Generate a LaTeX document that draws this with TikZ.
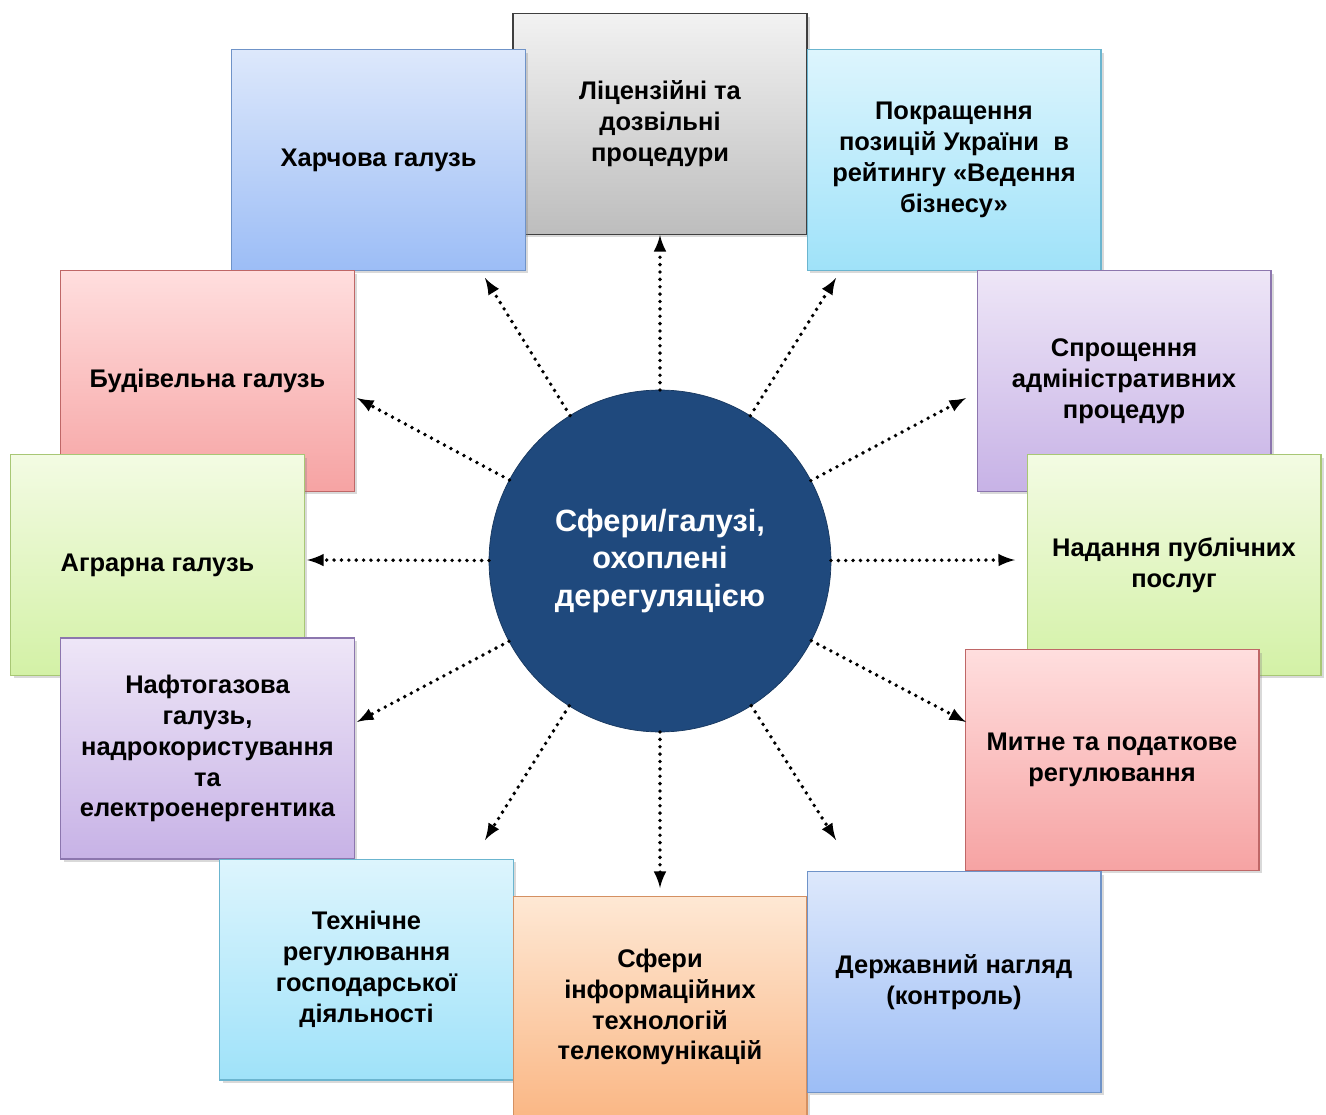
\documentclass[tikz,border=0pt]{standalone}
\usepackage{fontspec}
\setmainfont{Liberation Sans}
\usetikzlibrary{shadows}
\definecolor{grT}{HTML}{F2F2F2}\definecolor{grB}{HTML}{BDBDBD}\definecolor{grD}{HTML}{3F3F3F}
\definecolor{blT}{HTML}{DDE8FB}\definecolor{blB}{HTML}{9CBDF6}\definecolor{blD}{HTML}{6F93C8}
\definecolor{cyT}{HTML}{DDF5FD}\definecolor{cyB}{HTML}{9FE2F9}\definecolor{cyD}{HTML}{6BB5CF}
\definecolor{rdT}{HTML}{FFDEDE}\definecolor{rdB}{HTML}{F6A3A3}\definecolor{rdD}{HTML}{BF6767}
\definecolor{puT}{HTML}{EEE6F7}\definecolor{puB}{HTML}{C7B2E6}\definecolor{puD}{HTML}{8C76AE}
\definecolor{gnT}{HTML}{F3FBE3}\definecolor{gnB}{HTML}{D3F1A6}\definecolor{gnD}{HTML}{A8C775}
\definecolor{orT}{HTML}{FEE8D4}\definecolor{orB}{HTML}{FAB785}\definecolor{orD}{HTML}{D49062}
\definecolor{circ}{HTML}{1F497D}\definecolor{circD}{HTML}{17375E}
\begin{document}
\begin{tikzpicture}[x = .02cm, y = -.02cm,
  box/.style = {rectangle, minimum width = 5.88cm, minimum height = 4.42cm,
    inner sep = 0, outer sep = 0, align = center, line width = .6pt,
    font = \bfseries\fontsize{14.5}{17.6}\selectfont,
    drop shadow = {shadow xshift = .06cm, shadow yshift = -.06cm,
      opacity = .3}},
  graybox/.style = {box, top color = grT, bottom color = grB, draw = grD,
    line width = 1pt},
  bluebox/.style = {box, top color = blT, bottom color = blB, draw = blD},
  cyanbox/.style = {box, top color = cyT, bottom color = cyB, draw = cyD},
  redbox/.style = {box, top color = rdT, bottom color = rdB, draw = rdD},
  purplebox/.style = {box, top color = puT, bottom color = puB, draw = puD},
  greenbox/.style = {box, top color = gnT, bottom color = gnB, draw = gnD},
  orangebox/.style = {box, top color = orT, bottom color = orB, draw = orD},
  arr/.style = {-latex, line width = 2.2pt, line cap = round,
    dash pattern = on 0pt off 4.2pt}]
  \useasboundingbox (0, 0) rectangle (1326, 1115);
  % boxes, back to front
  \node[graybox] (lic) at (660, 124) {Ліцензійні та\\дозвільні\\процедури};
  \node[bluebox] (food) at (378.5, 160) {Харчова галузь};
  \node[cyanbox] (rank) at (954, 160)
  {Покращення\\позицій України\ \ в\\рейтингу «Ведення\\бізнесу»};
  \node[redbox] (build) at (207.5, 381) {Будівельна галузь};
  \node[purplebox] (admin) at (1124, 381)
  {Спрощення\\адміністративних\\процедур};
  \node[greenbox] (agro) at (157.5, 565) {Аграрна галузь};
  \node[greenbox] (pub) at (1174, 565) {Надання публічних\\послуг};
  \node[purplebox] (oil) at (207.5, 748.5)
  {Нафтогазова\\галузь,\\надрокористування\\та\\електроенергентика};
  \node[redbox] (tax) at (1112, 760) {Митне та податкове\\регулювання};
  \node[cyanbox] (tech) at (366.5, 969.5)
  {Технічне\\регулювання\\господарської\\діяльності};
  \node[orangebox] (it) at (660, 1007)
  {Сфери\\інформаційних\\технологій\\телекомунікацій};
  \node[bluebox] (ctrl) at (954, 982) {Державний нагляд\\(контроль)};
  % centre
  \node[circle, minimum size = 6.84cm, inner sep = 0, outer sep = 0,
  fill = circ, draw = circD, text = white, align = center,
  font = \bfseries\fontsize{17.5}{21.5}\selectfont] (c) at (660, 561)
  {Сфери/галузі,\\охоплені\\дерегуляцією};
  % arrow tips
  \coordinate (tLic) at (660, 235);
  \coordinate (tFood) at (485, 278);
  \coordinate (tRank) at (836, 278);
  \coordinate (tBuild) at (357, 398);
  \coordinate (tAdmin) at (966, 398);
  \coordinate (tAgro) at (307, 560);
  \coordinate (tPub) at (1015, 560);
  \coordinate (tOil) at (357, 722);
  \coordinate (tTax) at (966, 722);
  \coordinate (tTech) at (485, 840);
  \coordinate (tIt) at (660, 888);
  \coordinate (tCtrl) at (836, 840);
  \foreach \t in {tLic, tFood, tRank, tBuild, tAdmin, tAgro, tPub, tOil,
    tTax, tTech, tIt, tCtrl}
    \draw[arr] (c) -- (\t);
\end{tikzpicture}
\end{document}
